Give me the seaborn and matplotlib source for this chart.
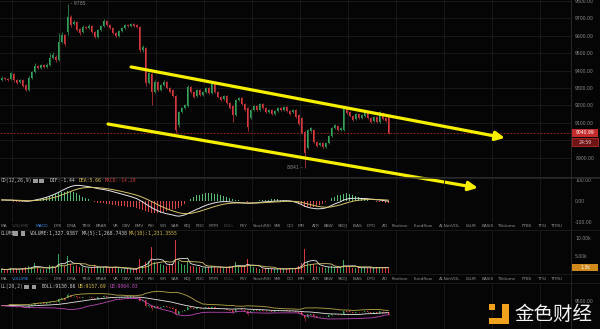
import numpy as np
import pandas as pd
import matplotlib
matplotlib.use("Agg")
import matplotlib.pyplot as plt
import seaborn as sns
from matplotlib.patches import Rectangle
from matplotlib.lines import Line2D

sns.set_theme(style="dark")
plt.rcParams['font.family'] = ['DejaVu Sans']

# ---------------- data ----------------
opens = [9346, 9358, 9352, 9352, 9381, 9346, 9335, 9346, 9317, 9289,
         9358, 9392, 9427, 9415, 9432, 9421, 9432, 9473, 9478, 9461,
         9565, 9605, 9622, 9708, 9668, 9680, 9639, 9622, 9651, 9645,
         9656, 9622, 9593, 9633, 9656, 9685, 9662, 9645, 9616, 9599,
         9628, 9645, 9662, 9656, 9668, 9662, 9651, 9519, 9530, 9329,
         9381, 9277, 9335, 9289, 9317, 9335, 9300, 9289, 9254, 9087,
         9162, 9185, 9197, 9306, 9277, 9254, 9289, 9260, 9277, 9300,
         9271, 9323, 9277, 9248, 9237, 9254, 9214, 9197, 9145, 9231,
         9243, 9208, 9185, 9128, 9174, 9197, 9174, 9208, 9185, 9162,
         9174, 9151, 9168, 9185, 9174, 9191, 9168, 9162, 9174, 9145,
         9128, 9047, 8955, 9053, 9059, 8990, 8972, 8984, 8961, 8984,
         9024, 9070, 9081, 9059, 9059, 9179, 9162, 9139, 9122, 9151,
         9128, 9139, 9162, 9128, 9110, 9133, 9105, 9156, 9128, 9139]
closes = [9358, 9352, 9346, 9386, 9346, 9329, 9346, 9312, 9289, 9358,
          9392, 9427, 9415, 9432, 9421, 9432, 9473, 9490, 9461, 9565,
          9605, 9553, 9708, 9662, 9680, 9633, 9616, 9651, 9645, 9656,
          9622, 9593, 9633, 9656, 9685, 9662, 9645, 9616, 9599, 9628,
          9645, 9662, 9656, 9668, 9656, 9651, 9519, 9536, 9329, 9386,
          9277, 9335, 9289, 9317, 9335, 9300, 9277, 9254, 9059, 9162,
          9185, 9202, 9306, 9277, 9248, 9289, 9260, 9277, 9300, 9271,
          9323, 9277, 9248, 9231, 9254, 9214, 9185, 9145, 9231, 9243,
          9208, 9174, 9076, 9174, 9197, 9174, 9208, 9185, 9162, 9174,
          9151, 9168, 9185, 9174, 9191, 9168, 9151, 9174, 9133, 9093,
          9041, 8926, 9059, 9070, 8990, 8967, 8984, 8961, 8984, 9024,
          9070, 9087, 9059, 9070, 9179, 9156, 9139, 9116, 9151, 9128,
          9145, 9168, 9128, 9105, 9133, 9105, 9162, 9122, 9110, 9040.99]
highs = [9369, 9363, 9358, 9392, 9386, 9352, 9352, 9352, 9323, 9369,
         9398, 9444, 9432, 9438, 9438, 9444, 9501, 9507, 9490, 9616,
         9622, 9611, 9785, 9720, 9691, 9685, 9645, 9662, 9656, 9668,
         9662, 9628, 9639, 9662, 9697, 9691, 9668, 9651, 9622, 9633,
         9651, 9668, 9668, 9674, 9674, 9668, 9656, 9547, 9536, 9392,
         9386, 9346, 9340, 9323, 9346, 9340, 9306, 9294, 9260, 9168,
         9191, 9208, 9317, 9312, 9283, 9294, 9294, 9283, 9306, 9306,
         9335, 9329, 9283, 9254, 9260, 9260, 9220, 9202, 9237, 9248,
         9248, 9214, 9191, 9179, 9202, 9202, 9214, 9214, 9191, 9179,
         9179, 9174, 9191, 9191, 9197, 9197, 9174, 9179, 9179, 9151,
         9133, 9053, 9064, 9076, 9064, 8996, 8990, 8990, 8990, 9030,
         9076, 9093, 9087, 9076, 9185, 9185, 9168, 9145, 9156, 9156,
         9151, 9174, 9168, 9133, 9139, 9139, 9168, 9162, 9133, 9145]
lows = [9340, 9346, 9340, 9346, 9335, 9323, 9329, 9306, 9283, 9283,
        9352, 9386, 9409, 9409, 9415, 9415, 9427, 9467, 9449, 9455,
        9559, 9542, 9605, 9651, 9662, 9628, 9605, 9616, 9639, 9639,
        9616, 9588, 9588, 9628, 9651, 9656, 9639, 9611, 9593, 9593,
        9622, 9639, 9651, 9651, 9651, 9645, 9507, 9507, 9312, 9323,
        9202, 9271, 9283, 9283, 9312, 9294, 9271, 9248, 9041, 9076,
        9156, 9179, 9191, 9271, 9243, 9248, 9254, 9254, 9271, 9266,
        9266, 9271, 9243, 9225, 9231, 9208, 9179, 9105, 9139, 9225,
        9202, 9168, 9053, 9122, 9168, 9168, 9168, 9179, 9156, 9156,
        9145, 9145, 9162, 9168, 9168, 9162, 9145, 9156, 9128, 9087,
        9035, 8841, 8949, 9047, 8984, 8961, 8967, 8955, 8955, 8978,
        9018, 9064, 9053, 9053, 9053, 9151, 9133, 9110, 9116, 9122,
        9122, 9133, 9122, 9099, 9105, 9099, 9099, 9116, 9105, 9035]
volumes_k = [1.0, 0.8, 0.9, 1.4, 1.1, 0.9, 0.8, 1.2, 1.5, 1.8,
             1.6, 2.7, 1.2, 1.0, 1.1, 0.9, 2.2, 2.0, 1.3, 5.3,
             2.4, 1.8, 5.0, 2.6, 1.8, 2.2, 1.6, 1.5, 1.2, 1.4,
             1.7, 1.9, 1.5, 1.4, 1.6, 1.8, 1.3, 1.5, 1.7, 1.2,
             1.0, 1.1, 0.9, 1.0, 0.8, 1.1, 4.0, 2.0, 3.0, 3.5,
             7.4, 3.0, 2.8, 2.5, 2.2, 2.0, 2.3, 2.6, 9.7, 3.5,
             2.5, 2.2, 3.2, 2.0, 1.8, 1.6, 1.5, 1.4, 1.7, 1.5,
             2.0, 1.6, 1.4, 1.5, 1.3, 1.6, 1.8, 2.0, 3.0, 1.6,
             1.5, 1.8, 4.0, 2.0, 1.5, 1.2, 1.1, 1.0, 1.3, 1.1,
             1.0, 0.9, 1.0, 1.2, 1.1, 1.0, 1.3, 1.4, 1.2, 2.0,
             2.7, 6.9, 3.0, 2.6, 2.4, 2.0, 1.6, 1.5, 1.4, 1.6,
             1.8, 1.5, 1.3, 1.4, 3.6, 1.8, 1.6, 1.4, 1.3, 1.5,
             1.2, 1.6, 1.4, 1.3, 1.2, 1.5, 1.7, 1.4, 1.3, 1.33]
dif_values = [5, 5, 4, 4, 3, 2, 1, 0, -1, -1,
              1, 4, 7, 10, 14, 18, 23, 29, 35, 42,
              50, 57, 64, 70, 74, 76, 76, 74, 72, 70,
              67, 64, 61, 58, 56, 53, 50, 46, 42, 38,
              34, 30, 26, 22, 17, 12, 4, -4, -14, -23,
              -32, -40, -47, -53, -58, -62, -65, -68, -72, -74,
              -72, -68, -62, -55, -48, -41, -35, -28, -22, -17,
              -13, -9, -6, -4, -3, -3, -4, -6, -7, -8,
              -9, -10, -11, -11, -10, -9, -7, -5, -4, -3,
              -2, -1, 0, 0, 1, 1, 0, -2, -6, -11,
              -17, -25, -30, -34, -36, -38, -38, -37, -34, -29,
              -22, -15, -9, -4, 4, 9, 12, 13, 13, 13,
              12, 12, 11, 9, 8, 6, 5, 3, 1, -1.44]

price_ticks = [8900, 9000, 9100, 9200, 9300, 9400, 9500, 9600, 9700, 9800]
hidden_price_ticks = [9000]          # covered by the countdown badge
macd_ticks = [-100, 0, 100]
volume_ticks_k = [5, 10]
boll_ticks = [9500]
last_price = 9040.99
countdown = "24:59"
last_volume_label = "1.3k"
peak_price = 9785
trough_price = 8841
upper_trend_idx = [43.2, 167.8]
upper_trend_price = [9421, 9013]
lower_trend_idx = [35.5, 158.8]
lower_trend_price = [9093, 8726]

macd_title = ["CD(12,26,9)", "DIF:-1.44", "DEA:5.66", "MACD:-14.20"]
volume_title = ["OLUME", "VOLUME:1,327.9387", "MA(5):1,268.7438", "MA(10):1,231.3555"]
boll_title = ["LL(20,2)", "BOLL:9130.86", "UB:9157.69", "LB:9064.03"]

tabs = ["MA", "VOLUME", "MACD", "DMI", "DMA", "TRIX", "BRAR", "VR", "OBV", "EMV",
        "RSI", "WR", "SAR", "KDJ", "ROC", "MTM", "BOLL", "PSY", "StochRSI", "SMI",
        "CCI", "MFI", "ATR", "BBW", "SKDJ", "BIAS", "DPO", "AD", "Position", "Fundflow",
        "AI-NetVOL", "LSUR", "BASIS", "TVolume", "FTBS", "TTSI", "TTMU"]

# ---------------- derived ----------------
opens = np.array(opens, float)
closes = np.array(closes, float)
highs = np.array(highs, float)
lows = np.array(lows, float)
vol = np.array(volumes_k, float)
idx = np.arange(len(closes))
up = closes >= opens

dif = pd.Series(dif_values, dtype=float)
dea = dif.ewm(span=9, adjust=False).mean()
hist = 2 * (dif - dea)

cs = pd.Series(closes)
boll_mid = cs.rolling(20, min_periods=1).mean()
boll_sd = cs.rolling(20, min_periods=1).std(ddof=0)
boll_ub = boll_mid + 2 * boll_sd
boll_lb = boll_mid - 2 * boll_sd

vs = pd.Series(vol)
vol_ma5 = vs.rolling(5, min_periods=1).mean()
vol_ma10 = vs.rolling(10, min_periods=1).mean()

# ---------------- style ----------------
BG = "#050505"
GRID = "#1b1b1b"
LBL = "#8a8a8a"
RED = "#d9393e"
GREEN = "#35a35a"
HRED = "#d84448"
HGREEN = "#56bb74"
YEL = "#f6f000"

W, H = 600, 329
fig = plt.figure(figsize=(6, 3.29), dpi=100, facecolor=BG)


def rect(x0, y0, x1, y1):
    return [x0 / W, 1 - y1 / H, (x1 - x0) / W, (y1 - y0) / H]


def ftext(x, y, s, **kw):
    kw.setdefault("va", "center")
    return fig.text(x / W, 1 - y / H, s, **kw)


def fbox(x0, y0, x1, y1, **kw):
    fig.add_artist(Rectangle((x0 / W, 1 - y1 / H), (x1 - x0) / W, (y1 - y0) / H,
                             transform=fig.transFigure, **kw))


XMIN, XMAX = -0.5, -0.5 + 571 / 3
grid_x = [3.5 + 16 * k for k in range(12)]


def setup(ax, ylim, yticks, fmt, hidden=()):
    ax.set_facecolor("none")
    ax.set_xlim(XMIN, XMAX)
    ax.set_ylim(*ylim)
    for s in ax.spines.values():
        s.set_visible(False)
    ax.yaxis.tick_right()
    ax.set_yticks(yticks)
    ax.set_yticklabels(["" if v in hidden else fmt(v) for v in yticks])
    ax.set_xticks(grid_x)
    ax.tick_params(axis="x", length=0, labelbottom=False)
    ax.tick_params(axis="y", length=0, pad=3, labelsize=3.3, labelcolor=LBL)
    ax.grid(True, color=GRID, linewidth=0.6)
    ax.set_axisbelow(True)


def draw_candles(ax, width, lw, minbody):
    colors = np.where(up, GREEN, RED)
    ax.vlines(idx, lows, highs, colors=colors, linewidth=lw, zorder=3)
    body = np.maximum(np.abs(closes - opens), minbody)
    ax.bar(idx, body, bottom=np.minimum(opens, closes), width=width,
           color=colors, linewidth=0, zorder=3)


# ---- main price panel ----
ax = fig.add_axes(rect(0, 0, 571, 176))
setup(ax, (8794.3, 9805.7), price_ticks, lambda v: f"{v:.2f}", hidden_price_ticks)
draw_candles(ax, 0.62, 0.5, 4)
ax.axhline(last_price, color="#b52a2a", linestyle=(0, (2, 2)), linewidth=0.6, zorder=2)
for xs, ys in [(upper_trend_idx, upper_trend_price), (lower_trend_idx, lower_trend_price)]:
    ax.annotate("", xy=(xs[1], ys[1]), xytext=(xs[0], ys[0]),
                arrowprops=dict(arrowstyle="-|>,head_length=0.45,head_width=0.22",
                                color=YEL, lw=2.3, shrinkA=0, shrinkB=0),
                annotation_clip=False, zorder=6)
ipk = int(np.argmax(highs))
ax.annotate(f"– {peak_price}", xy=(ipk, peak_price), xytext=(2, 0),
            textcoords="offset points", ha="left", va="center", fontsize=3.3, color=LBL)
itr = int(np.argmin(lows))
ax.annotate(f"{trough_price} –", xy=(itr, trough_price), xytext=(-1, 0),
            textcoords="offset points", ha="right", va="center", fontsize=3.3, color=LBL)

# ---- MACD panel ----
axm = fig.add_axes(rect(0, 178, 571, 222))
setup(axm, (-102.4, 112), macd_ticks, lambda v: f"{v:.2f}")
axm.grid(axis="y", visible=False)
axm.bar(idx, hist, width=0.45, color=np.where(hist >= 0, HGREEN, HRED), linewidth=0, zorder=3)
sns.lineplot(x=idx, y=dif, ax=axm, color="#e6e6e6", linewidth=0.7, zorder=4)
sns.lineplot(x=idx, y=dea, ax=axm, color="#d6c46a", linewidth=0.7, zorder=4)
axm.set_xlabel(""); axm.set_ylabel("")

# ---- Volume panel ----
axv = fig.add_axes(rect(0, 230, 571, 272.5))
setup(axv, (0, 12.5), volume_ticks_k, lambda v: f"{v:.2f}k")
axv.grid(axis="y", visible=False)
axv.bar(idx, vol, width=0.55, color=np.where(up, GREEN, RED), linewidth=0, zorder=3)
sns.lineplot(x=idx, y=vol_ma5, ax=axv, color="#e6e6e6", linewidth=0.6, zorder=4)
sns.lineplot(x=idx, y=vol_ma10, ax=axv, color="#d6c46a", linewidth=0.6, zorder=4)
axv.set_xlabel(""); axv.set_ylabel("")

# ---- BOLL panel ----
axb = fig.add_axes(rect(0, 283.5, 571, 329))
setup(axb, (8567, 10100), boll_ticks, lambda v: f"{v:.2f}")
axb.grid(axis="y", visible=False)
draw_candles(axb, 0.5, 0.4, 8)
sns.lineplot(x=idx, y=boll_mid, ax=axb, color="#e6e6e6", linewidth=0.6, zorder=4)
sns.lineplot(x=idx, y=boll_ub, ax=axb, color="#b9a94a", linewidth=0.6, zorder=4)
sns.lineplot(x=idx, y=boll_lb, ax=axb, color="#b848b8", linewidth=0.6, zorder=4)
axb.set_xlabel(""); axb.set_ylabel("")

# ---- separators ----
fig.add_artist(Line2D([571 / W, 571 / W], [0, 1], transform=fig.transFigure, color="#2c2c2c", lw=0.6))
for yy, c in [(176.8, "#3a3a3a"), (178.2, "#2a2a2a"), (229.5, "#222222"),
              (274.0, "#222222"), (283.0, "#222222")]:
    fig.add_artist(Line2D([0, 1], [1 - yy / H] * 2, transform=fig.transFigure, color=c, lw=0.5))

# ---- price / volume badges on right axis ----
fbox(572, 129, 598, 137, facecolor="#c42b2b", edgecolor="none")
ftext(585, 133, f"{last_price:.2f}", ha="center", fontsize=3.3, color="white")
fbox(572, 138, 598, 146, facecolor="#6e1414", edgecolor="#d23232", linewidth=0.5)
ftext(585, 142, countdown, ha="center", fontsize=3.3, color="#f0d0d0")
fbox(572, 263.5, 598, 271, facecolor="#d08a1c", edgecolor="none")
ftext(585, 267.3, last_volume_label, ha="center", fontsize=3.3, color="white")

# ---- panel titles ----
MONO = ["DejaVu Sans Mono"]


def panel_title(y, texts, xs, icon_x, cols):
    for t, x0, c in zip(texts, xs, cols):
        ftext(x0, y, t, ha="left", fontsize=3.4, color=c, family=MONO)
    for x0 in icon_x:
        fbox(x0, y - 2.2, x0 + 4.5, y + 2.3, facecolor="#9a9a9a", edgecolor="none")


panel_title(180.7, macd_title, [0.5, 50, 79, 105], [33, 39.5],
            ["#bdbdbd", "#d0d0d0", "#d8c050", "#d04040"])
panel_title(233.5, volume_title, [0.5, 30, 82, 129], [13, 20.5],
            ["#bdbdbd", "#d0d0d0", "#d0d0d0", "#d8c050"])
panel_title(286.8, boll_title, [0.5, 42, 78, 110], [24, 31.5],
            ["#bdbdbd", "#d0d0d0", "#d8c050", "#c050c0"])

# ---- indicator tab bars ----
tab_x = [0.5, 12, 36, 54, 67, 82, 96, 113, 122, 135,
         148, 160, 171, 184, 196, 209, 224, 240, 253, 274,
         287, 298, 312, 324, 338, 353, 367, 382, 392, 414,
         439, 466, 482, 498, 522, 538, 551]
for bar_y, active, dim in [(226.0, "MACD", ("VOLUME", "BOLL")),
                           (279.0, "VOLUME", ("MACD", "BOLL"))]:
    for name, x0 in zip(tabs, tab_x):
        col = "#8e8e8e"
        if name == active:
            col = "#3f86e6"
        elif name in dim:
            col = "#4a4a4a"
        ftext(x0, bar_y, name, ha="left", fontsize=3.1, color=col)

# ---- watermark ----
fbox(488.5, 304, 495, 310, facecolor="#f0a21e", edgecolor="none")
fbox(502, 303.5, 508.5, 323.5, facecolor="#f0a21e", edgecolor="none")
fbox(488.5, 317.5, 508.5, 323.5, facecolor="#f0a21e", edgecolor="none")
ftext(553, 314.5, "金色财经", ha="center", fontsize=14, color="#f2f2f2",
      family=["Noto Sans CJK SC", "DejaVu Sans"])

fig.savefig("out.png", dpi=100, facecolor=BG)
